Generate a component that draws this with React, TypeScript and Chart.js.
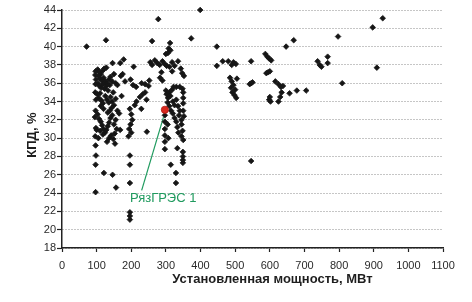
import React, { useEffect, useRef } from "react";
import { Chart, registerables } from "chart.js";

Chart.register(...registerables);

// ---- Data (installed capacity, MW ; efficiency, %) ----
const xTicksMin = 0;
const xTicksMax = 1100;
const yTicksMin = 18;
const yTicksMax = 44;

const groupLeftEdge: [number, number][] = [
  [71, 40.0], [127, 40.7],
];
const groupColumn100: [number, number][] = [
  [97, 37.3], [96, 36.9], [98, 36.4], [97, 35.9], [96, 35.0], [98, 34.2], [97, 33.0], [95, 32.3],
  [98, 31.1], [100, 30.9], [96, 30.2], [97, 29.2], [98, 28.1], [97, 27.1], [97, 24.1],
];
const groupUpper100: [number, number][] = [
  [103, 37.5], [108, 37.2], [112, 37.0], [118, 37.4], [122, 37.6], [128, 37.7], [105, 36.8], [110, 36.5],
  [115, 36.3], [120, 36.6], [125, 36.2], [130, 36.0], [135, 36.4], [140, 36.7], [104, 36.0], [108, 35.7],
  [113, 35.5], [118, 35.9], [123, 35.4], [128, 35.7], [133, 35.2], [138, 35.8], [145, 36.2], [150, 37.0],
  [155, 36.0], [160, 35.8],
];
const groupMiddle100: [number, number][] = [
  [102, 34.8], [106, 34.4], [110, 34.9], [114, 34.1], [118, 33.8], [125, 34.6], [130, 34.2], [135, 33.9],
  [140, 34.5], [145, 34.0], [150, 33.6], [155, 34.3], [148, 35.0], [143, 33.3], [138, 33.0], [132, 32.8],
  [120, 33.2], [112, 33.5],
];
const groupLower100: [number, number][] = [
  [103, 32.6], [107, 32.1], [112, 31.8], [116, 31.4], [120, 31.0], [124, 30.6], [128, 30.9], [132, 31.3],
  [136, 31.7], [140, 32.2], [145, 32.5], [150, 31.5], [152, 30.5], [148, 29.9], [142, 30.3], [136, 30.0],
  [130, 29.6], [118, 30.4], [110, 30.8], [105, 30.0], [153, 29.4], [155, 32.0], [158, 31.0], [160, 33.0],
];
const group170: [number, number][] = [
  [146, 38.2], [168, 38.2], [178, 38.6], [170, 36.8], [175, 37.0], [182, 36.2], [172, 34.6], [165, 32.7],
  [168, 30.9], [121, 26.2], [146, 26.0], [156, 24.6],
];
const group200: [number, number][] = [
  [207, 37.8], [198, 36.4], [205, 35.8], [214, 35.6], [230, 36.0], [240, 35.9], [250, 35.7], [252, 36.3],
  [196, 33.2], [200, 32.6], [203, 32.0], [198, 31.5], [194, 31.0], [192, 30.2], [200, 30.6], [210, 33.6],
  [215, 34.0], [225, 34.5], [233, 34.8], [240, 35.0], [244, 34.2], [229, 33.2], [245, 30.7], [196, 28.1],
  [196, 27.1], [196, 25.1], [196, 21.9], [196, 21.5], [196, 21.1],
];
const group300Upper: [number, number][] = [
  [278, 43.0], [260, 40.6], [312, 40.4], [308, 39.8], [306, 39.3], [313, 39.6], [300, 39.2], [373, 40.9],
  [399, 44.0], [255, 38.3], [260, 38.0], [268, 38.5], [275, 38.2], [282, 38.0], [290, 38.4], [297, 38.1],
  [302, 37.9], [287, 37.2], [283, 36.6], [290, 36.3], [318, 38.3], [325, 37.9], [335, 38.4], [343, 37.6],
  [347, 37.1], [352, 36.8], [318, 37.3], [310, 37.8],
];
const group300Lower: [number, number][] = [
  [300, 35.2], [302, 34.8], [306, 34.4], [310, 35.0], [313, 34.6], [318, 35.3], [322, 35.6], [330, 35.6],
  [340, 35.6], [348, 35.4], [350, 35.0], [350, 34.4], [350, 33.8], [350, 33.0], [352, 32.4], [345, 32.0],
  [345, 31.5], [348, 30.8], [345, 30.2], [350, 29.8], [297, 32.5], [297, 31.8], [297, 31.0], [297, 30.3],
  [297, 29.6], [297, 28.8], [305, 33.9], [310, 33.5], [315, 33.0], [320, 32.7], [325, 32.2], [330, 31.8],
  [333, 31.2], [336, 30.6], [320, 34.0], [325, 33.6], [330, 34.2], [335, 33.5], [340, 33.0], [338, 32.5],
  [333, 28.9], [314, 27.1], [329, 26.2], [329, 25.1], [349, 28.5], [349, 28.0], [349, 27.6], [349, 27.3],
  [305, 31.5], [307, 30.0],
];
const groupLarge: [number, number][] = [
  [447, 40.0], [447, 37.9], [464, 38.4], [480, 38.4], [490, 38.0], [495, 38.3], [502, 38.1], [485, 36.6],
  [490, 36.2], [495, 35.8], [500, 35.3], [492, 35.0], [498, 34.7], [503, 34.4], [488, 35.5], [505, 36.5],
  [546, 38.4], [546, 36.0], [542, 35.9], [550, 36.1], [546, 27.5], [587, 39.2], [593, 38.9], [598, 38.7],
  [604, 38.5], [595, 37.2], [590, 37.1], [600, 37.3], [616, 36.2], [625, 35.9], [632, 35.6], [638, 35.7],
  [598, 34.2], [602, 34.0], [600, 34.5], [625, 34.0], [630, 34.5], [634, 35.0], [657, 34.9], [678, 35.2],
  [705, 35.2], [669, 40.7], [647, 40.0], [738, 38.4], [744, 38.0], [749, 37.8], [767, 38.9], [767, 38.2],
  [797, 41.1], [809, 36.0], [897, 42.1], [926, 43.1], [909, 37.7],
];

const highlightPoint: [number, number] = [297, 33.1];
const highlightLabel = "РязГРЭС 1";
const labelAnchor: [number, number] = [196, 23.4];
const pointerFrom: [number, number] = [230, 24.3];
const pointerTo: [number, number] = [293, 32.3];

const xTitle = "Установленная мощность, МВт";
const yTitle = "КПД, %";

const allPoints = [
  ...groupLeftEdge, ...groupColumn100, ...groupUpper100, ...groupMiddle100, ...groupLower100,
  ...group170, ...group200, ...group300Upper, ...group300Lower, ...groupLarge,
];

const GREEN = "#1f9a5e";
const FONT = '"Liberation Sans", Arial, sans-serif';

const annotationPlugin = {
  id: "annotations",
  beforeDatasetsDraw(chart: any) {
    const { ctx, scales } = chart;
    const x = scales.x, y = scales.y;
    ctx.save();
    ctx.strokeStyle = GREEN;
    ctx.lineWidth = 1.2;
    ctx.beginPath();
    ctx.moveTo(x.getPixelForValue(pointerFrom[0]), y.getPixelForValue(pointerFrom[1]));
    ctx.lineTo(x.getPixelForValue(pointerTo[0]), y.getPixelForValue(pointerTo[1]));
    ctx.stroke();
    ctx.restore();
  },
  afterDraw(chart: any) {
    const { ctx, scales, chartArea } = chart;
    const x = scales.x, y = scales.y;
    ctx.save();
    ctx.fillStyle = GREEN;
    ctx.font = `13px ${FONT}`;
    ctx.textAlign = "left";
    ctx.textBaseline = "middle";
    ctx.fillText(highlightLabel, x.getPixelForValue(labelAnchor[0]), y.getPixelForValue(labelAnchor[1]));

    ctx.fillStyle = "#1e1e1e";
    ctx.font = `bold 13px ${FONT}`;
    ctx.textAlign = "center";
    ctx.fillText(xTitle, (chartArea.left + chartArea.right) / 2 + 20, chartArea.bottom + 31);

    ctx.translate(32, (chartArea.top + chartArea.bottom) / 2 + 6);
    ctx.rotate(-Math.PI / 2);
    ctx.fillText(yTitle, 0, 0);
    ctx.restore();
  },
};

export default function App() {
  const canvasRef = useRef<HTMLCanvasElement | null>(null);

  useEffect(() => {
    document.body.style.margin = "0";
    const canvas = canvasRef.current;
    if (!canvas) return;
    const chart = new Chart(canvas, {
      type: "scatter",
      data: {
        datasets: [
          {
            label: "highlight",
            data: [{ x: highlightPoint[0], y: highlightPoint[1] }],
            pointStyle: "circle",
            pointRadius: 3.6,
            backgroundColor: "#d92a1f",
            borderColor: "#b01c14",
            borderWidth: 0.8,
            order: 0,
            clip: false,
          },
          {
            label: "plants",
            data: allPoints.map(([px, py]) => ({ x: px, y: py })),
            pointStyle: "rectRot",
            pointRadius: 2.8,
            backgroundColor: "#161616",
            borderColor: "#161616",
            borderWidth: 0.8,
            order: 1,
            clip: false,
          },
        ],
      },
      options: {
        responsive: false,
        animation: false,
        events: [],
        layout: { padding: { left: 0, right: 29, top: 10, bottom: 0 } },
        plugins: {
          legend: { display: false },
          tooltip: { enabled: false },
        },
        scales: {
          x: {
            type: "linear",
            min: xTicksMin,
            max: xTicksMax,
            ticks: {
              stepSize: 100,
              color: "#2a2a2a",
              font: { family: FONT, size: 11 },
              padding: 7,
              maxRotation: 0,
              callback: (v: any) => String(v),
            },
            grid: {
              drawOnChartArea: false,
              drawTicks: true,
              tickLength: 4,
              tickColor: "#222",
              tickWidth: 1.2,
            },
            border: { display: true, color: "#222", width: 1.5 },
            afterFit: (scale: any) => {
              scale.height = 54;
            },
          },
          y: {
            type: "linear",
            min: yTicksMin,
            max: yTicksMax,
            ticks: {
              stepSize: 2,
              color: "#2a2a2a",
              font: { family: FONT, size: 11 },
              padding: 1,
              callback: (v: any) => String(v),
            },
            grid: {
              color: "#8c8c8c",
              lineWidth: 1,
              drawTicks: true,
              tickLength: 5,
              tickColor: "#222",
              tickWidth: 1.2,
              tickBorderDash: [],
            },
            border: { display: true, color: "#222", width: 1.5, dash: [1, 2] },
            afterFit: (scale: any) => {
              scale.width = 62;
            },
          },
        },
      },
      plugins: [annotationPlugin],
    });
    return () => chart.destroy();
  }, []);

  return <canvas ref={canvasRef} width={472} height={302} style={{ display: "block" }} />;
}
